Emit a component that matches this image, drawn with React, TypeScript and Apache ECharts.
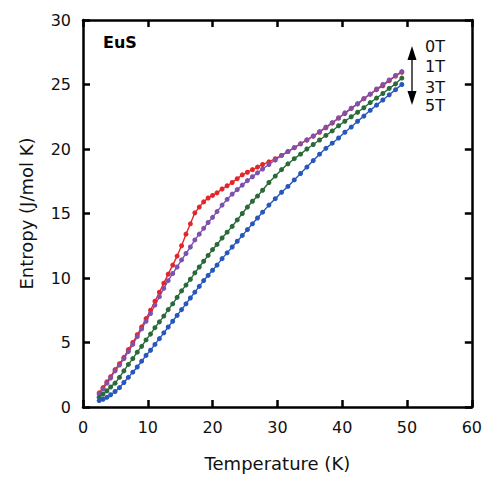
import React, { useEffect, useRef } from "react";
import * as echarts from "echarts";

// Temperature grid (K)
const temps = [2.5, 3.09, 3.68, 4.26, 4.95, 5.63, 6.31, 7.0, 7.68, 8.37, 9.05, 9.73, 10.42, 11.1, 11.79, 12.47, 13.15, 13.84, 14.52, 15.21, 15.89, 16.57, 17.26, 17.94, 18.62, 19.31, 19.99, 20.68, 21.46, 22.24, 23.02, 23.8, 24.58, 25.37, 26.15, 26.93, 27.71, 28.69, 29.67, 30.64, 31.62, 32.6, 33.57, 34.55, 35.53, 36.5, 37.48, 38.46, 39.44, 40.41, 41.39, 42.37, 43.34, 44.32, 45.3, 46.27, 47.25, 48.23, 49.2];

// Entropy (J/mol K) for each field
const s0T = [1.1, 1.5, 1.95, 2.35, 2.9, 3.35, 3.85, 4.45, 5.0, 5.6, 6.2, 6.85, 7.5, 8.2, 8.9, 9.6, 10.3, 11.0, 11.7, 12.5, 13.4, 14.2, 15.05, 15.5, 15.9, 16.2, 16.4, 16.6, 16.9, 17.15, 17.4, 17.7, 18.0, 18.2, 18.4, 18.6, 18.8, 19.0, 19.25, 19.5, 19.8, 20.1, 20.4, 20.7, 21.0, 21.3, 21.65, 22.0, 22.4, 22.75, 23.15, 23.5, 23.9, 24.25, 24.6, 24.9, 25.3, 25.65, 25.95];
const s1T = [1.0, 1.4, 1.85, 2.25, 2.8, 3.25, 3.75, 4.3, 4.85, 5.45, 6.05, 6.65, 7.25, 7.9, 8.55, 9.2, 9.8, 10.35, 10.85, 11.4, 11.9, 12.4, 12.95, 13.4, 13.85, 14.3, 14.7, 15.15, 15.65, 16.1, 16.5, 16.85, 17.2, 17.55, 17.85, 18.15, 18.45, 18.8, 19.15, 19.5, 19.8, 20.1, 20.4, 20.7, 21.0, 21.35, 21.7, 22.05, 22.4, 22.8, 23.15, 23.5, 23.9, 24.25, 24.65, 25.0, 25.35, 25.7, 26.0];
const s3T = [0.75, 1.0, 1.25, 1.55, 1.85, 2.3, 2.8, 3.3, 3.75, 4.25, 4.7, 5.2, 5.65, 6.15, 6.6, 7.05, 7.55, 8.0, 8.5, 9.0, 9.45, 9.9, 10.4, 10.85, 11.3, 11.75, 12.2, 12.6, 13.1, 13.55, 14.0, 14.5, 15.0, 15.5, 15.95, 16.35, 16.8, 17.4, 17.9, 18.4, 18.85, 19.25, 19.6, 20.0, 20.35, 20.7, 21.05, 21.4, 21.8, 22.15, 22.5, 22.85, 23.2, 23.6, 23.95, 24.3, 24.7, 25.05, 25.5];
const s5T = [0.5, 0.6, 0.75, 0.95, 1.2, 1.5, 1.9, 2.3, 2.7, 3.1, 3.55, 4.0, 4.4, 4.85, 5.3, 5.75, 6.2, 6.65, 7.1, 7.55, 8.0, 8.45, 8.9, 9.35, 9.8, 10.2, 10.6, 11.0, 11.5, 11.95, 12.4, 12.85, 13.3, 13.75, 14.2, 14.65, 15.1, 15.65, 16.15, 16.65, 17.1, 17.6, 18.1, 18.6, 19.1, 19.6, 20.05, 20.45, 20.85, 21.3, 21.7, 22.15, 22.55, 23.0, 23.4, 23.8, 24.2, 24.6, 25.0];

const fieldLabels = ["0T", "1T", "3T", "5T"];
const xTicks = [0, 10, 20, 30, 40, 50, 60];
const yTicks = [0, 5, 10, 15, 20, 25, 30];

const FONT = "DejaVu Sans";

export default function App() {
  const ref = useRef<HTMLDivElement>(null);
  useEffect(() => {
    if (!ref.current) return;
    const chart = echarts.init(ref.current, undefined, { renderer: "svg" });
    const mk = (arr: number[]) => temps.map((t, i) => [t, arr[i]]);
    const lineSeries = (name: string, arr: number[], color: string) => ({
      name,
      type: "line",
      data: mk(arr),
      symbol: "circle",
      symbolSize: 5,
      showSymbol: true,
      itemStyle: { color },
      lineStyle: { color, width: 1.4 },
    });
    const axisCommon = {
      type: "value",
      axisLine: { show: true, onZero: false, lineStyle: { color: "#000", width: 2.5 } },
      axisTick: { show: true, inside: true, length: 7, lineStyle: { color: "#000", width: 2.5 } },
      splitLine: { show: false },
    };
    const labelStyle = { color: "#111", fontSize: 16, fontFamily: FONT };
    chart.setOption({
      animation: false,
      grid: { left: 83, right: 13, top: 20, bottom: 75, containLabel: false },
      xAxis: [
        {
          ...axisCommon,
          min: xTicks[0],
          max: xTicks[xTicks.length - 1],
          interval: 10,
          position: "bottom",
          axisLabel: { ...labelStyle, margin: 12 },
          name: "Temperature (K)",
          nameLocation: "middle",
          nameGap: 47,
          nameTextStyle: { color: "#111", fontSize: 18, fontFamily: FONT },
        },
        {
          ...axisCommon,
          min: xTicks[0],
          max: xTicks[xTicks.length - 1],
          interval: 10,
          position: "top",
          axisLabel: { show: false },
        },
      ],
      yAxis: [
        {
          ...axisCommon,
          min: yTicks[0],
          max: yTicks[yTicks.length - 1],
          interval: 5,
          position: "left",
          axisLabel: { ...labelStyle, margin: 12 },
          name: "Entropy (J/mol K)",
          nameLocation: "middle",
          nameGap: 48,
          nameTextStyle: { color: "#111", fontSize: 18, fontFamily: FONT },
        },
        {
          ...axisCommon,
          min: yTicks[0],
          max: yTicks[yTicks.length - 1],
          interval: 5,
          position: "right",
          axisLabel: { show: false },
        },
      ],
      series: [
        lineSeries(fieldLabels[0], s0T, "#e4262b"),
        lineSeries(fieldLabels[1], s1T, "#7d52ad"),
        lineSeries(fieldLabels[2], s3T, "#2a6a38"),
        lineSeries(fieldLabels[3], s5T, "#2757bd"),
      ],
      graphic: [
        {
          type: "text",
          left: 103,
          top: 34,
          style: { text: "EuS", font: `bold 16px '${FONT}'`, fill: "#000" },
        },
        ...fieldLabels.map((t, i) => ({
          type: "text",
          x: 425,
          y: [46.5, 66.5, 87.5, 105][i],
          style: { text: t, font: `16px '${FONT}'`, fill: "#111", verticalAlign: "middle" },
        })),
        {
          type: "line",
          shape: { x1: 412, y1: 56, x2: 412, y2: 95 },
          style: { stroke: "#000", lineWidth: 1.3 },
        },
        {
          type: "polygon",
          shape: { points: [[407.5, 60], [416.5, 60], [412, 46]] },
          style: { fill: "#000" },
        },
        {
          type: "polygon",
          shape: { points: [[407.5, 91], [416.5, 91], [412, 105]] },
          style: { fill: "#000" },
        },
      ],
    });
    return () => chart.dispose();
  }, []);
  return (
    <div
      ref={ref}
      style={{ position: "fixed", left: 0, top: 0, width: 485, height: 482, background: "#fff" }}
    />
  );
}
